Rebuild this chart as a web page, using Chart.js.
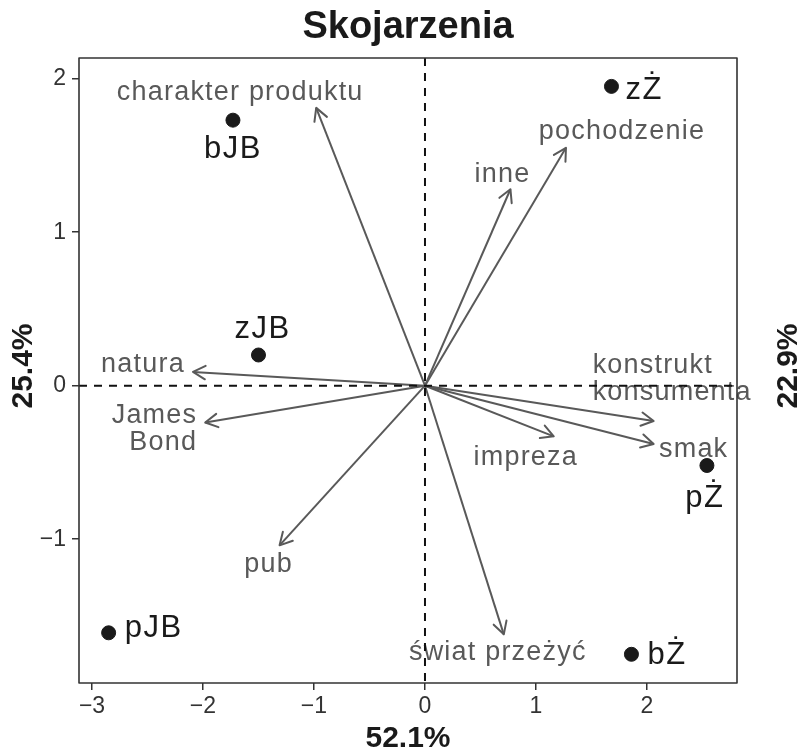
<!DOCTYPE html>
<html>
<head>
<meta charset="utf-8">
<script src="https://cdn.jsdelivr.net/npm/chart.js@4/dist/chart.umd.min.js"></script>
<style>
  html, body { margin: 0; padding: 0; background: #fff; }
  #chart { display: block; }
</style>
</head>
<body>
<canvas id="chart" width="803" height="749"></canvas>
<script>
// objects (points)
const pointNames = ['bJB', 'zŻ', 'zJB', 'pŻ', 'pJB', 'bŻ'];
const pointX = [-1.73, 1.68, -1.50, 2.54, -2.85, 1.86];
const pointY = [1.73, 1.95, 0.20, -0.52, -1.61, -1.75];

// variables (arrows from origin)
const arrowNames = ['charakter produktu', 'pochodzenie', 'inne', 'natura', 'James\nBond',
  'konstrukt\nkonsumenta', 'smak', 'impreza', 'pub', 'świat przeżyć'];
const arrowX = [-0.98, 1.27, 0.77, -2.09, -1.98, 2.06, 2.06, 1.16, -1.31, 0.71];
const arrowY = [1.81, 1.55, 1.28, 0.09, -0.24, -0.23, -0.38, -0.33, -1.04, -1.62];

const xTicks = [-3, -2, -1, 0, 1, 2];
const yTicks = [-1, 0, 1, 2];
const xRange = [-3.117, 2.811];
const yRange = [-1.937, 2.135];

const chartTitle = 'Skojarzenia';
const xTitle = '52.1%';
const yTitleLeft = '25.4%';
const yTitleRight = '22.9%';

// label placement (pixel offsets from the mark, align)
const arrowLabelPos = [
  [-76, -15, 'center'], [56, -16, 'center'], [-8, -15, 'center'], [-50, -7, 'center'],
  [-8, -7, 'right'], [-61, -55, 'left'], [40, 6, 'center'], [-28, 21, 'center'],
  [-11, 19, 'center'], [-6, 18, 'center']
];
const pointLabelPos = [
  [0, 29, 'center'], [14, 4, 'left'], [4, -26, 'center'], [-2, 33, 'center'],
  [16, -4, 'left'], [16, 1, 'left']
];

const arrowColor = '#595959';
const inkColor = '#1a1a1a';
const fontFam = '"Liberation Sans", Arial, Helvetica, sans-serif';

const minus = v => (v < 0 ? '\u2212' + Math.abs(v) : String(v));

const biplotPlugin = {
  id: 'biplot',
  afterDatasetsDraw(chart) {
    const ctx = chart.ctx;
    const xs = chart.scales.x, ys = chart.scales.y;
    const a = chart.chartArea;
    const ox = xs.getPixelForValue(0), oy = ys.getPixelForValue(0);

    ctx.save();
    // arrow heads
    ctx.strokeStyle = arrowColor;
    ctx.lineWidth = 2;
    ctx.lineCap = 'round';
    ctx.lineJoin = 'round';
    arrowX.forEach((v, i) => {
      const tx = xs.getPixelForValue(v), ty = ys.getPixelForValue(arrowY[i]);
      const ang = Math.atan2(ty - oy, tx - ox);
      const len = 14, spread = 0.5;
      ctx.beginPath();
      ctx.moveTo(tx - len * Math.cos(ang - spread), ty - len * Math.sin(ang - spread));
      ctx.lineTo(tx, ty);
      ctx.lineTo(tx - len * Math.cos(ang + spread), ty - len * Math.sin(ang + spread));
      ctx.stroke();
    });

    // arrow labels
    ctx.fillStyle = arrowColor;
    ctx.font = '27px ' + fontFam;
    ctx.letterSpacing = '1.2px';
    ctx.textBaseline = 'middle';
    arrowNames.forEach((name, i) => {
      const tx = xs.getPixelForValue(arrowX[i]), ty = ys.getPixelForValue(arrowY[i]);
      const [dx, dy, al] = arrowLabelPos[i];
      ctx.textAlign = al;
      name.split('\n').forEach((line, k) => {
        ctx.fillText(line, tx + dx, ty + dy + k * 27);
      });
    });

    // point labels
    ctx.fillStyle = inkColor;
    ctx.font = '31px ' + fontFam;
    ctx.letterSpacing = '1.5px';
    pointNames.forEach((name, i) => {
      const px = xs.getPixelForValue(pointX[i]), py = ys.getPixelForValue(pointY[i]);
      const [dx, dy, al] = pointLabelPos[i];
      ctx.textAlign = al;
      ctx.fillText(name, px + dx, py + dy);
    });
    ctx.letterSpacing = '0px';

    // reference lines at 0
    ctx.strokeStyle = '#111';
    ctx.lineWidth = 2;
    ctx.lineCap = 'butt';
    ctx.setLineDash([8, 7]);
    ctx.beginPath();
    ctx.moveTo(a.left, oy); ctx.lineTo(a.right, oy);
    ctx.moveTo(ox, a.top); ctx.lineTo(ox, a.bottom);
    ctx.stroke();
    ctx.setLineDash([]);

    // panel frame
    ctx.strokeStyle = '#333';
    ctx.lineWidth = 1.6;
    ctx.strokeRect(a.left, a.top, a.right - a.left, a.bottom - a.top);

    // titles
    ctx.fillStyle = inkColor;
    ctx.textAlign = 'center';
    ctx.textBaseline = 'middle';
    ctx.font = 'bold 38px ' + fontFam;
    ctx.fillText(chartTitle, (a.left + a.right) / 2, 28);
    ctx.font = 'bold 30px ' + fontFam;
    ctx.fillText(xTitle, (a.left + a.right) / 2, 739);
    const midY = 366;
    ctx.save();
    ctx.translate(24, midY);
    ctx.rotate(-Math.PI / 2);
    ctx.fillText(yTitleLeft, 0, 0);
    ctx.restore();
    ctx.save();
    ctx.translate(789, midY);
    ctx.rotate(-Math.PI / 2);
    ctx.fillText(yTitleRight, 0, 0);
    ctx.restore();
    ctx.restore();
  }
};

const arrowSets = arrowX.map((v, i) => ({
  type: 'line',
  label: arrowNames[i],
  data: [{ x: 0, y: 0 }, { x: v, y: arrowY[i] }],
  borderColor: arrowColor,
  borderWidth: 2,
  pointRadius: 0,
  showLine: true,
  fill: false,
  order: 2
}));

new Chart(document.getElementById('chart'), {
  type: 'scatter',
  data: {
    datasets: [{
      label: 'obiekty',
      data: pointX.map((v, i) => ({ x: v, y: pointY[i] })),
      backgroundColor: inkColor,
      borderColor: inkColor,
      pointRadius: 7,
      pointHoverRadius: 7,
      order: 1
    }].concat(arrowSets)
  },
  options: {
    responsive: false,
    animation: false,
    devicePixelRatio: 1,
    layout: { padding: { left: 0, right: 66, top: 58, bottom: 0 } },
    plugins: {
      legend: { display: false },
      tooltip: { enabled: false },
      title: { display: false }
    },
    scales: {
      x: {
        type: 'linear',
        min: xRange[0],
        max: xRange[1],
        afterBuildTicks: s => { s.ticks = xTicks.map(v => ({ value: v })); },
        afterFit: s => { s.height = 66; },
        border: { display: false },
        grid: { drawOnChartArea: false, drawTicks: true, tickLength: 7, color: '#333', lineWidth: 1.5 },
        ticks: {
          color: '#333',
          font: { family: fontFam, size: 23 },
          padding: 3,
          maxRotation: 0,
          callback: v => minus(v)
        }
      },
      y: {
        type: 'linear',
        min: yRange[0],
        max: yRange[1],
        afterBuildTicks: s => { s.ticks = yTicks.map(v => ({ value: v })); },
        afterFit: s => { s.width = 79; },
        border: { display: false },
        grid: { drawOnChartArea: false, drawTicks: true, tickLength: 7, color: '#333', lineWidth: 1.5 },
        ticks: {
          color: '#333',
          font: { family: fontFam, size: 23 },
          padding: 6,
          callback: v => minus(v)
        }
      }
    }
  },
  plugins: [biplotPlugin]
});
</script>
</body>
</html>
